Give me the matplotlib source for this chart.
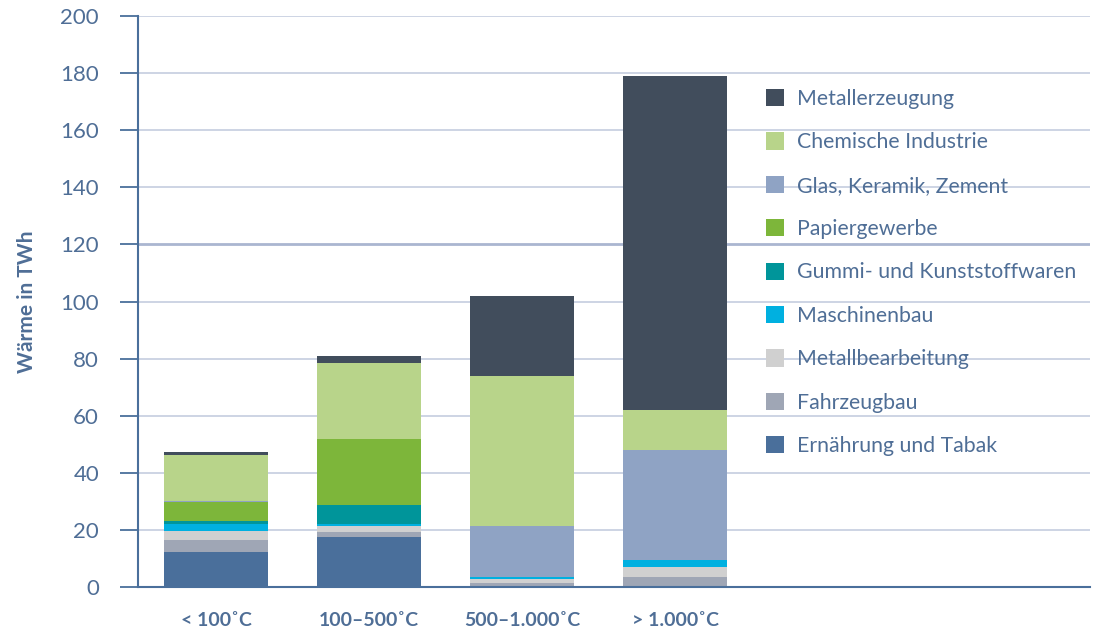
import matplotlib
matplotlib.use("Agg")
import matplotlib.pyplot as plt
from matplotlib.patches import Patch
import numpy as np

categories = ["< 100˚C", "100–500˚C", "500–1.000˚C", "> 1.000˚C"]

# stacked from bottom to top
series_names = ["Ernährung und Tabak", "Fahrzeugbau", "Metallbearbeitung", "Maschinenbau",
                "Gummi- und Kunststoffwaren", "Papiergewerbe", "Glas, Keramik, Zement",
                "Chemische Industrie", "Metallerzeugung"]
ernaehrung = [12.3, 17.5, 0.3, 0.5]
fahrzeugbau = [4.1, 1.8, 1.0, 3.0]
metallbearbeitung = [3.2, 2.1, 1.5, 3.5]
maschinenbau = [2.6, 0.5, 0.7, 2.4]
gummi = [0.9, 6.7, 0.0, 0.0]
papier = [6.7, 23.1, 0.0, 0.0]
glas = [0.3, 0.2, 17.9, 38.7]
chemie = [16.0, 26.5, 52.6, 13.8]
metallerzeugung = [1.1, 2.4, 28.0, 117.1]

series_values = [ernaehrung, fahrzeugbau, metallbearbeitung, maschinenbau, gummi,
                 papier, glas, chemie, metallerzeugung]
colors = ["#4a6f9b", "#9fa6b5", "#d0d0d0", "#00b0e0", "#00959a",
          "#7db63a", "#8fa3c4", "#b8d48a", "#414d5c"]

yticks = [0, 20, 40, 60, 80, 100, 120, 140, 160, 180, 200]

text_color = "#4f6e96"
axis_color = "#4a6f9b"
grid_color = "#c9d1e2"

plt.rcParams['font.family'] = ['Lato', 'DejaVu Sans']

fig = plt.figure(figsize=(11.02, 6.33), dpi=100)
ax = fig.add_axes([138/1102, 1-587/633, 952/1102, 571/633])

x = np.arange(len(categories))
bottom = np.zeros(len(categories))
for name, vals, c in zip(series_names, series_values, colors):
    vals = np.array(vals)
    ax.bar(x, vals, bottom=bottom, width=0.68, color=c, label=name, zorder=3)
    bottom += vals

ax.set_xlim(-0.51, 5.71)
ax.set_ylim(0, 200)
ax.set_yticks(yticks)
ax.set_yticklabels([str(t) for t in yticks], fontsize=16, color=text_color)
ax.set_xticks(x)
ax.set_xticklabels(categories, fontsize=14, fontweight='bold', color=text_color)

for t in yticks[1:]:
    lw = 2.0 if t == 120 else 1.3
    col = "#aab6d0" if t == 120 else grid_color
    ax.axhline(t, color=col, lw=lw, zorder=1)

for s in ["top", "right"]:
    ax.spines[s].set_visible(False)
ax.spines["left"].set_color(axis_color)
ax.spines["left"].set_linewidth(1.5)
ax.spines["bottom"].set_color(axis_color)
ax.spines["bottom"].set_linewidth(1.5)
ax.spines["bottom"].set_zorder(4)

ax.tick_params(axis='y', direction='out', length=13, width=1.3, color=axis_color, pad=15)
ax.tick_params(axis='x', length=0, pad=18)

ax.set_ylabel("Wärme in TWh", fontsize=15, fontweight='bold', color=text_color, labelpad=17)

handles = [Patch(facecolor=c, edgecolor='none') for c in colors][::-1]
labels = series_names[::-1]
leg = fig.legend(handles, labels, loc='upper left', bbox_to_anchor=(766/1102, 1-89/633),
                 frameon=False, fontsize=15.3, labelcolor=text_color,
                 handlelength=0.87, handleheight=0.87, handletextpad=0.6,
                 labelspacing=1.1, borderpad=0, borderaxespad=0)

fig.savefig("out.png", dpi=100)
